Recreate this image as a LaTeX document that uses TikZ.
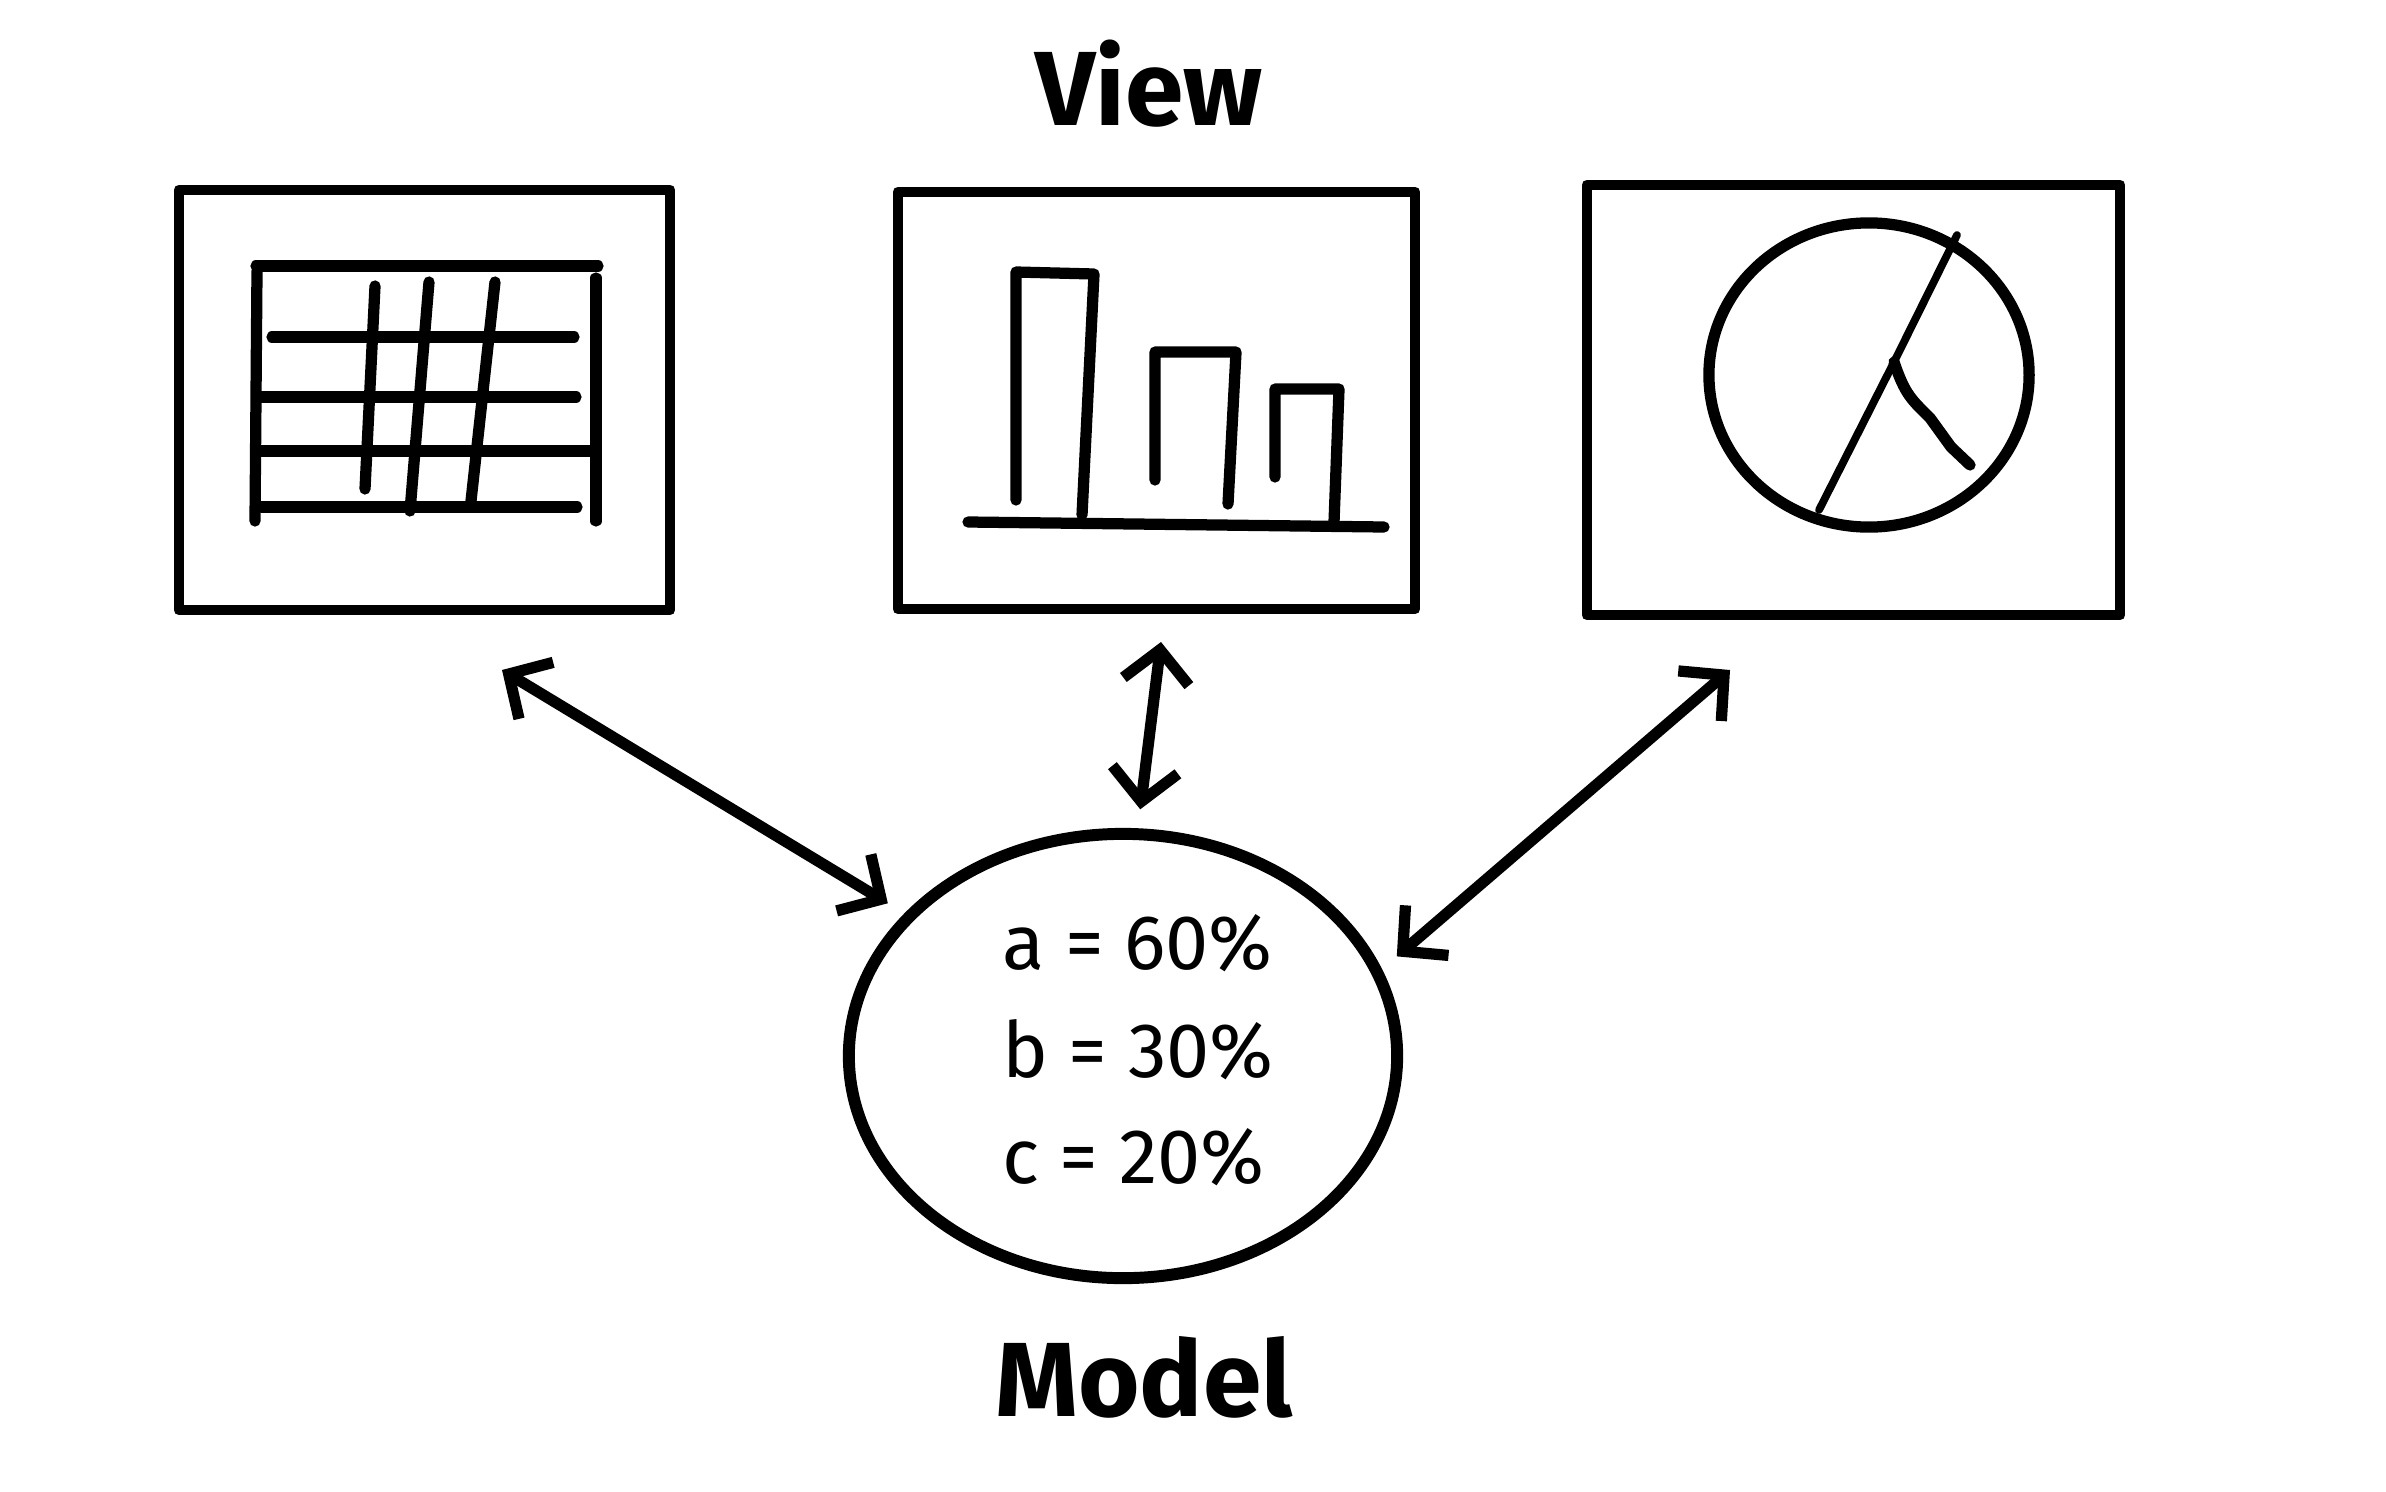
\documentclass[tikz,border=0pt]{standalone}
\usepackage{fontspec}
\setmainfont{Fira Sans}
\usetikzlibrary{arrows.meta,shapes.geometric}
\tikzset{
  pen/.style={line width=3.2pt, line cap=round, line join=round},
  thinpen/.style={line width=2.2pt, line cap=round, line join=round},
  frame/.style={draw, pen, line width=3pt, inner sep=0pt},
  link/.style={pen, {Straight Barb[length=0.32cm,width=0.66cm]}-{Straight Barb[length=0.32cm,width=0.66cm]}},
  title/.style={font=\fontsize{30}{36}\selectfont\bfseries},
  value/.style={font=\fontsize{22}{30}\selectfont, anchor=west}
}
\begin{document}
\begin{tikzpicture}[x=0.01cm, y=-0.01cm]
\useasboundingbox (0,0) rectangle (2386,1491);
\node[title] (viewlabel) at (1149,84) {View};
\node[frame, minimum width=4.91cm, minimum height=4.20cm] (tableview) at (424.5,400) {};
\node[frame, minimum width=5.17cm, minimum height=4.17cm] (barview) at (1156.5,400.5) {};
\node[frame, minimum width=5.33cm, minimum height=4.30cm] (pieview) at (1853.5,400) {};
% table
\draw[pen] (256,266) -- (598,266);
\draw[pen] (257,271) -- (255,521);
\draw[pen] (596,278) -- (596,521);
\foreach \y/\a/\b in {337/272/574, 397/258/576, 451/258/589, 507/262/577}
  \draw[pen] (\a,\y) -- (\b,\y);
\draw[pen] (375,286) -- (365,489);
\draw[pen] (429,282) -- (410,511);
\draw[pen] (495,282) -- (471,501);
% bars
\draw[pen] (968,522) -- (1384,527);
\draw[pen] (1016,500) -- (1016,272) -- (1094,274) -- (1082,515);
\draw[pen] (1155,480) -- (1155,352) -- (1236,352) -- (1228,504);
\draw[pen] (1275,477) -- (1275,389) -- (1339,389) -- (1334,522);
% pie
\draw[pen] (1869,375) ellipse [x radius=1.6cm, y radius=1.52cm];
\draw[thinpen] (1957,235) -- (1894,362) -- (1819,510);
\draw[pen] (1894,362) .. controls (1905,395) and (1912,400) .. (1930,418) -- (1951,447) -- (1970,465);
% model
\node[draw, ellipse, pen, line width=3.4pt, minimum width=5.48cm, minimum height=4.44cm, outer sep=0.25cm] (model) at (1123,1056) {};
\node[value] (vala) at (990,943) {a = 60\%};
\node[value] (valb) at (990,1050) {b = 30\%};
\node[value] (valc) at (990,1157) {c = 20\%};
\node[title] (modellabel) at (1144,1377) {Model};
\coordinate (tabletip) at (502,670);
\coordinate (bartip) at (1161,642);
\coordinate (pietip) at (1730,670);
\draw[link] (tabletip) -- (model.147);
\draw[link] (bartip) -- (model.86);
\draw[link] (pietip) -- (model.20);
\end{tikzpicture}
\end{document}
